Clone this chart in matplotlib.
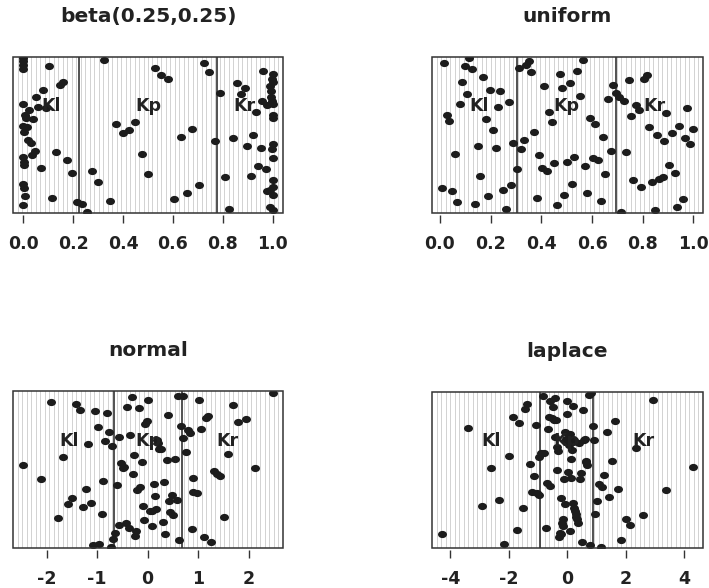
import numpy as np
import matplotlib.pyplot as plt
from matplotlib.path import Path
from matplotlib.transforms import Affine2D
from matplotlib.patches import Rectangle

plt.rcParams['axes.unicode_minus'] = False
plt.rcParams['font.family'] = ['DejaVu Sans']

# ---- data (x = value, y = vertical jitter as fraction of panel height) ----
beta_x = [0.00, 0.00, 0.00, 0.00, 0.104, 0.160, 0.147, 0.080, 0.053, 0.00, 0.060, 0.091, 0.024,
          0.007, 0.011, 0.040, 0.00, 0.016, 0.003, 0.020, 0.031, 0.045, 0.033, 0.00, 0.003, 0.003,
          0.130, 0.176, 0.071, 0.195, 0.00, 0.003, 0.007, 0.114, 0.00, 0.214, 0.234, 0.254,
          0.324, 0.527, 0.553, 0.582, 0.725, 0.746, 0.372, 0.398, 0.424, 0.448, 0.678, 0.631,
          0.769, 0.475, 0.501, 0.277, 0.298, 0.348, 0.604, 0.655, 0.703,
          0.789, 0.858, 0.888, 0.872, 0.963, 1.0, 0.996, 1.0, 0.989, 0.992, 0.993, 0.996, 1.0,
          0.956, 0.976, 0.933, 1.0, 1.0, 0.842, 0.922, 0.898, 0.952, 1.0, 0.996, 1.0, 0.940,
          0.972, 0.912, 0.809, 1.0, 1.0, 0.989, 0.976, 1.0, 0.824, 0.989, 1.0]
beta_y = [0.99, 0.97, 0.95, 0.92, 0.94, 0.84, 0.82, 0.79, 0.74, 0.70, 0.68, 0.67, 0.66,
          0.63, 0.61, 0.60, 0.56, 0.55, 0.52, 0.47, 0.45, 0.40, 0.37, 0.36, 0.33, 0.31,
          0.39, 0.34, 0.29, 0.26, 0.19, 0.16, 0.11, 0.10, 0.05, 0.07, 0.06, 0.01,
          0.98, 0.93, 0.88, 0.86, 0.96, 0.90, 0.57, 0.51, 0.53, 0.58, 0.54, 0.49,
          0.46, 0.38, 0.25, 0.27, 0.20, 0.08, 0.09, 0.13, 0.18,
          0.77, 0.83, 0.80, 0.76, 0.91, 0.89, 0.86, 0.84, 0.81, 0.78, 0.74, 0.72, 0.70,
          0.72, 0.69, 0.65, 0.63, 0.61, 0.48, 0.50, 0.43, 0.42, 0.44, 0.41, 0.35, 0.30,
          0.28, 0.24, 0.23, 0.21, 0.17, 0.15, 0.14, 0.12, 0.03, 0.04, 0.02]

unif_x = [0.017, 0.116, 0.097, 0.127, 0.087, 0.169, 0.107, 0.077, 0.198, 0.238, 0.229, 0.271,
          0.026, 0.037, 0.180, 0.209, 0.149, 0.220, 0.058, 0.159, 0.008, 0.048, 0.069, 0.139,
          0.189, 0.249, 0.279, 0.259, 0.288, 0.302,
          0.310, 0.339, 0.352, 0.361, 0.411, 0.472, 0.483, 0.513, 0.542, 0.563, 0.553, 0.431,
          0.442, 0.370, 0.331, 0.321, 0.390, 0.401, 0.421, 0.451, 0.501, 0.530, 0.571, 0.602,
          0.623, 0.593, 0.612, 0.643, 0.673, 0.653, 0.522, 0.491, 0.460, 0.381, 0.582, 0.634,
          0.664, 0.683, 0.693,
          0.706, 0.725, 0.745, 0.804, 0.815, 0.774, 0.784, 0.754, 0.890, 0.976, 0.825, 0.856,
          0.885, 0.915, 0.944, 0.997, 0.966, 0.987, 0.735, 0.903, 0.926, 0.763, 0.794, 0.835,
          0.865, 0.878, 0.958, 0.937, 0.847, 0.714]
unif_y = [0.96, 0.99, 0.94, 0.92, 0.84, 0.87, 0.76, 0.70, 0.79, 0.78, 0.68, 0.71,
          0.63, 0.59, 0.60, 0.53, 0.43, 0.42, 0.38, 0.24, 0.16, 0.14, 0.07, 0.06,
          0.11, 0.15, 0.18, 0.03, 0.45, 0.28,
          0.93, 0.95, 0.97, 0.90, 0.81, 0.89, 0.80, 0.83, 0.91, 0.98, 0.75, 0.65,
          0.58, 0.52, 0.47, 0.41, 0.37, 0.29, 0.27, 0.32, 0.33, 0.36, 0.30, 0.35,
          0.34, 0.61, 0.57, 0.49, 0.40, 0.25, 0.19, 0.12, 0.05, 0.10, 0.13, 0.08,
          0.73, 0.82, 0.77,
          0.74, 0.72, 0.85, 0.86, 0.88, 0.69, 0.66, 0.62, 0.64, 0.67, 0.55, 0.50,
          0.46, 0.51, 0.56, 0.54, 0.48, 0.44, 0.39, 0.31, 0.26, 0.21, 0.17, 0.20,
          0.22, 0.23, 0.09, 0.04, 0.02, 0.01]

norm_x = [-2.462, -2.119, -1.921, -1.776, -1.670, -1.571, -1.492, -1.419, -1.347, -1.287,
          -1.228, -1.175, -1.129, -1.083, -1.036, -0.990, -0.957, -0.904, -0.878, -0.838,
          -0.805, -0.766, -0.733, -0.700, -0.680, -0.640, -0.601, -0.568, -0.561, -0.521,
          -0.488, -0.462, -0.429, -0.403, -0.363, -0.350, -0.317, -0.290, -0.271, -0.244,
          -0.231, -0.205, -0.165, -0.152, -0.119, -0.099, -0.066, -0.046, -0.013, 0.013,
          0.040, 0.079, 0.092, 0.119, 0.139, 0.165, 0.178, 0.205, 0.231, 0.257,
          0.297, 0.317, 0.343, 0.376, 0.396, 0.416, 0.449, 0.482, 0.495, 0.541,
          0.574, 0.607, 0.627, 0.667, 0.700, 0.706, 0.759, 0.805, 0.845, 0.878,
          0.904, 0.904, 0.970, 1.010, 1.063, 1.116, 1.155, 1.195, 1.248, 1.512,
          1.591, 1.690, 1.795, 1.947, 1.314, 1.366, 1.432, 2.132, 2.475]
norm_y = [0.53, 0.44, 0.93, 0.19, 0.58, 0.28, 0.32, 0.92, 0.88, 0.26,
          0.38, 0.66, 0.29, 0.02, 0.87, 0.77, 0.03, 0.22, 0.43, 0.68,
          0.86, 0.74, 0.01, 0.65, 0.06, 0.10, 0.40, 0.71, 0.15, 0.54,
          0.51, 0.52, 0.16, 0.90, 0.13, 0.72, 0.96, 0.47, 0.59, 0.08,
          0.11, 0.37, 0.89, 0.39, 0.55, 0.27, 0.18, 0.79, 0.81, 0.94,
          0.24, 0.14, 0.24, 0.41, 0.33, 0.25, 0.69, 0.67, 0.63, 0.63,
          0.17, 0.42, 0.09, 0.56, 0.85, 0.30, 0.23, 0.34, 0.21, 0.57,
          0.31, 0.97, 0.05, 0.78, 0.97, 0.70, 0.61, 0.75, 0.73, 0.12,
          0.45, 0.36, 0.35, 0.94, 0.76, 0.07, 0.83, 0.84, 0.04, 0.20,
          0.60, 0.91, 0.80, 0.82, 0.49, 0.47, 0.46, 0.51, 0.99]

lap_x = [-4.287, -3.381, -2.923, -2.602, -2.350, -2.155, -2.006, -1.857, -1.731, -1.639,
         -1.524, -1.433, -1.364, -1.284, -1.215, -1.135, -1.077, -1.043, -0.951, -0.951,
         -0.883, -0.814, -0.779, -0.734, -0.699, -0.665, -0.619, -0.596, -0.573, -0.527,
         -0.493, -0.447, -0.424, -0.401, -0.378, -0.355, -0.332, -0.309, -0.264, -0.241,
         -0.218, -0.195, -0.183, -0.160, -0.149, -0.115, -0.092, -0.069, -0.057, -0.034,
         -0.011, 0.000, 0.023, 0.057, 0.080, 0.092, 0.115, 0.138, 0.160, 0.183,
         0.206, 0.218, 0.241, 0.264, 0.287, 0.309, 0.332, 0.367, 0.401, 0.424,
         0.458, 0.493, 0.539, 0.562, 0.607, 0.630, 0.653, 0.688, 0.745, 0.779,
         0.825, 0.871, 0.917, 0.951, 1.020, 1.089, 1.146, 1.192, 1.261, 1.364,
         1.433, 1.536, 1.639, 1.742, 1.857, 2.006, 2.166, 2.361, 2.602, 2.934,
         3.393, 4.298]
lap_y = [0.09, 0.77, 0.27, 0.51, 0.31, 0.03, 0.59, 0.84, 0.12, 0.80,
         0.26, 0.89, 0.92, 0.54, 0.36, 0.46, 0.79, 0.35, 0.34, 0.58,
         0.61, 0.97, 0.61, 0.13, 0.42, 0.76, 0.84, 0.94, 0.40, 0.83,
         0.90, 0.82, 0.71, 0.96, 0.82, 0.50, 0.65, 0.62, 0.07, 0.10,
         0.32, 0.09, 0.16, 0.14, 0.19, 0.44, 0.28, 0.74, 0.70, 0.69,
         0.94, 0.86, 0.49, 0.66, 0.11, 0.73, 0.57, 0.45, 0.63, 0.29,
         0.91, 0.69, 0.26, 0.24, 0.20, 0.22, 0.19, 0.16, 0.67, 0.44,
         0.48, 0.04, 0.88, 0.69, 0.70, 0.56, 0.55, 0.53, 0.98, 0.02,
         0.99, 0.78, 0.69, 0.22, 0.30, 0.41, 0.01, 0.39, 0.47, 0.74,
         0.33, 0.56, 0.81, 0.38, 0.05, 0.19, 0.15, 0.64, 0.21, 0.95,
         0.37, 0.52]

titles = ['beta(0.25,0.25)', 'uniform', 'normal', 'laplace']
cuts = [[0.223, 0.777], [0.303, 0.696], [-0.66, 0.67], [-0.93, 0.90]]
ticks = [[0.0, 0.2, 0.4, 0.6, 0.8, 1.0], [0.0, 0.2, 0.4, 0.6, 0.8, 1.0],
         [-2, -1, 0, 1, 2], [-4, -2, 0, 2, 4]]
tick_labels = [['0.0', '0.2', '0.4', '0.6', '0.8', '1.0'], ['0.0', '0.2', '0.4', '0.6', '0.8', '1.0'],
               ['-2', '-1', '0', '1', '2'], ['-4', '-2', '0', '2', '4']]
region_labels = ['Kl', 'Kp', 'Kr']

xs = [beta_x, unif_x, norm_x, lap_x]
ys = [beta_y, unif_y, norm_y, lap_y]

# ---- layout ----
W, H = 709, 588
fig = plt.figure(figsize=(W / 100, H / 100), dpi=100)
boxes = [(13.3, 56.7, 282.7, 213.3), (432, 56.7, 702.7, 213.3),
         (13.3, 391, 282.7, 548.3), (432, 391.7, 702.7, 548.3)]

# slightly wide ellipse marker (the original is horizontally stretched)
dot = Path.unit_circle().transformed(Affine2D().scale(1.0, 0.8))

for i in range(4):
    l, t, r, b = boxes[i]
    ax = fig.add_axes([l / W, 1 - b / H, (r - l) / W, (b - t) / H])
    x = np.array(xs[i])
    y = np.array(ys[i])
    lo, hi = x.min(), x.max()
    pad = 0.04 * (hi - lo)
    ax.set_xlim(lo - pad, hi + pad)
    ax.set_ylim(0, 1)

    # light background grid of vertical lines
    for gx in np.linspace(lo - pad, hi + pad, 61)[1:-1]:
        ax.axvline(gx, color='#d2d2d2', lw=0.7, zorder=0)

    for c in cuts[i]:
        ax.axvline(c, color='#333333', lw=1.2, zorder=2)

    ax.scatter(x, y, marker=dot, s=42, color='#1c1c1c', linewidths=0, zorder=3)

    mids = [(lo + cuts[i][0]) / 2, (cuts[i][0] + cuts[i][1]) / 2, (cuts[i][1] + hi) / 2]
    for m, lab in zip(mids, region_labels):
        ax.text(m, 0.685, lab, ha='center', va='center', fontsize=12.5,
                fontweight='bold', color='#222222', zorder=4)

    for s in ax.spines.values():
        s.set_visible(False)
    ax.spines['bottom'].set_position(('outward', 1.5))
    ax.add_patch(Rectangle((0, 0), 1, 1, transform=ax.transAxes, fill=False,
                           ec='#333333', lw=1.1, zorder=5, clip_on=False))

    ax.set_xticks(ticks[i])
    ax.set_xticklabels(tick_labels[i], fontsize=12.5, fontweight='bold', color='#222222')
    ax.tick_params(axis='x', direction='out', length=6, width=1.0, color='#333333', pad=8)
    ax.set_yticks([])
    ax.set_title(titles[i], fontsize=14.5, fontweight='bold', color='#222222', pad=25)

fig.savefig('out.png', dpi=100)
